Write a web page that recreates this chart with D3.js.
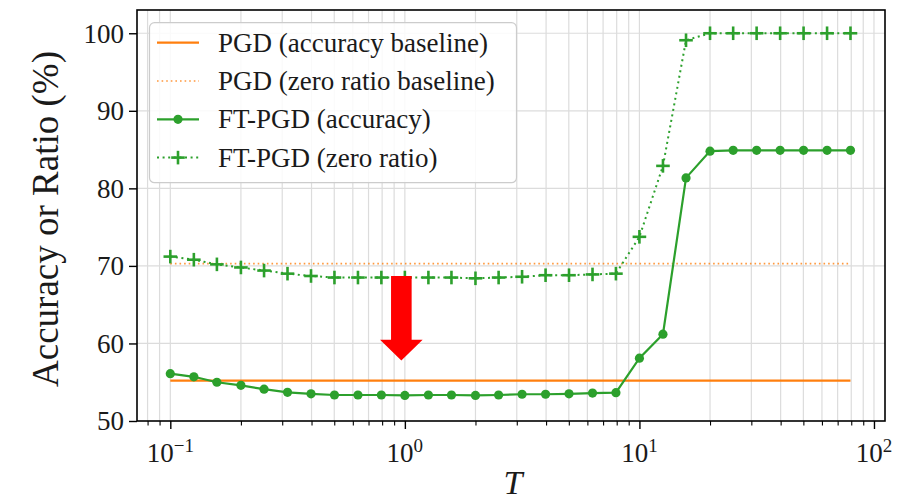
<!DOCTYPE html>
<html>
<head>
<meta charset="utf-8">
<script src="https://cdn.jsdelivr.net/npm/d3@7"></script>
<style>
  html, body { margin: 0; padding: 0; background: #fff; }
  svg { display: block; }
  text { font-family: "Liberation Serif", "DejaVu Serif", serif; fill: #1a1a1a; }
</style>
</head>
<body>
<svg id="chart" width="916" height="502"></svg>
<script>
// ---------------- data ----------------
const T = [0.1, 0.126, 0.158, 0.2, 0.251, 0.316, 0.398, 0.501, 0.631, 0.794,
           1, 1.26, 1.58, 2, 2.51, 3.16, 3.98, 5.01, 6.31, 7.94,
           10, 12.6, 15.8, 20, 25.1, 31.6, 39.8, 50.1, 63.1, 79.4];
const ftAccuracy = [56.1, 55.7, 55.0, 54.6, 54.1, 53.7, 53.5, 53.35, 53.35, 53.35,
                    53.3, 53.35, 53.35, 53.3, 53.35, 53.45, 53.45, 53.5, 53.6, 53.65,
                    58.1, 61.2, 81.35, 84.8, 84.9, 84.9, 84.9, 84.9, 84.9, 84.9];
const ftZeroRatio = [71.2, 70.8, 70.2, 69.8, 69.4, 69.0, 68.7, 68.5, 68.5, 68.5,
                     68.5, 68.5, 68.5, 68.4, 68.5, 68.6, 68.8, 68.8, 68.9, 69.0,
                     73.75, 82.9, 99.1, 100, 100, 100, 100, 100, 100, 100];
const baselineT = [0.1, 79.4];
const pgdAccuracy = [55.2, 55.2];
const pgdZeroRatio = [70.3, 70.3];

const yTicks = [50, 60, 70, 80, 90, 100];
const xMajorTicks = [0.1, 1, 10, 100];
const xMajorExp = ["−1", "0", "1", "2"];
const xMinorTicks = [0.08, 0.09, 0.2, 0.3, 0.4, 0.5, 0.6, 0.7, 0.8, 0.9,
                     2, 3, 4, 5, 6, 7, 8, 9, 20, 30, 40, 50, 60, 70, 80, 90];
const legendLabels = ["PGD (accuracy baseline)", "PGD (zero ratio baseline)",
                      "FT-PGD (accuracy)", "FT-PGD (zero ratio)"];
const xLabel = "T";
const yLabel = "Accuracy or Ratio (%)";
// annotation arrow (T position, from value, to value)
const arrowT = 0.966, arrowFrom = 68.7, arrowTo = 57.8;

// ---------------- layout ----------------
const L = 137, R = 885, TOP = 10, B = 421;
const orange = "#ff7f0e", green = "#2ca02c", gridColor = "#dcdcdc";

const svg = d3.select("#chart");
const x = d3.scaleLog().domain([Math.pow(10, -1.142), Math.pow(10, 2.047)]).range([L, R]);
const y = d3.scaleLinear().domain([50, 103]).range([B, TOP]);

// grid
const grid = svg.append("g");
grid.selectAll("line.vx").data(xMajorTicks.concat(xMinorTicks).filter(d => x(d) > L && x(d) < R))
  .join("line").attr("x1", d => x(d)).attr("x2", d => x(d)).attr("y1", TOP).attr("y2", B)
  .attr("stroke", gridColor).attr("stroke-width", 1.2);
grid.selectAll("line.hy").data(yTicks.filter(d => d > 50))
  .join("line").attr("x1", L).attr("x2", R).attr("y1", d => y(d)).attr("y2", d => y(d))
  .attr("stroke", gridColor).attr("stroke-width", 1.2);

// lines
const line = d3.line().x(d => x(d[0])).y(d => y(d[1]));
const zipB = arr => baselineT.map((t, i) => [t, arr[i]]);
const zipF = arr => T.map((t, i) => [t, arr[i]]);

svg.append("path").attr("d", line(zipB(pgdAccuracy))).attr("fill", "none")
  .attr("stroke", orange).attr("stroke-width", 2.2);
svg.append("path").attr("d", line(zipB(pgdZeroRatio))).attr("fill", "none")
  .attr("stroke", orange).attr("stroke-width", 1.6).attr("stroke-dasharray", "1.6,3").attr("opacity", 0.8);

svg.append("path").attr("d", line(zipF(ftAccuracy))).attr("fill", "none")
  .attr("stroke", green).attr("stroke-width", 2.2);
svg.append("path").attr("d", line(zipF(ftZeroRatio))).attr("fill", "none")
  .attr("stroke", green).attr("stroke-width", 2).attr("stroke-dasharray", "2,3.6");

svg.append("g").selectAll("circle").data(zipF(ftAccuracy)).join("circle")
  .attr("cx", d => x(d[0])).attr("cy", d => y(d[1])).attr("r", 4.6).attr("fill", green);

const plusSize = 6.8;
const plus = (g, cx, cy) => {
  g.append("line").attr("x1", cx - plusSize).attr("x2", cx + plusSize).attr("y1", cy).attr("y2", cy)
    .attr("stroke", green).attr("stroke-width", 2.6);
  g.append("line").attr("x1", cx).attr("x2", cx).attr("y1", cy - plusSize).attr("y2", cy + plusSize)
    .attr("stroke", green).attr("stroke-width", 2.6);
};
const plusG = svg.append("g");
zipF(ftZeroRatio).forEach(d => plus(plusG, x(d[0]), y(d[1])));

// axes ticks
const yAxis = d3.axisLeft(y).tickValues(yTicks).tickSize(8).tickPadding(5).tickFormat(d3.format("d"));
const gy = svg.append("g").attr("transform", `translate(${L},0)`).call(yAxis);
gy.select(".domain").remove();
gy.selectAll(".tick line").attr("stroke", "#000").attr("stroke-width", 1.4);
gy.selectAll(".tick text").attr("font-size", 27).attr("font-family", "Liberation Serif")
  .attr("fill", "#1a1a1a").attr("dy", "0.33em");

const xAxis = d3.axisBottom(x).tickValues(xMajorTicks).tickSize(8).tickFormat("");
const gx = svg.append("g").attr("transform", `translate(0,${B})`).call(xAxis);
gx.select(".domain").remove();
gx.selectAll(".tick line").attr("stroke", "#000").attr("stroke-width", 1.4);
const xMinorAxis = d3.axisBottom(x).tickValues(xMinorTicks.filter(d => x(d) > L)).tickSize(4.5).tickFormat("");
const gxm = svg.append("g").attr("transform", `translate(0,${B})`).call(xMinorAxis);
gxm.select(".domain").remove();
gxm.selectAll(".tick line").attr("stroke", "#000").attr("stroke-width", 1.1);

// x tick labels 10^k
xMajorTicks.forEach((t, i) => {
  const tx = svg.append("text").attr("x", x(t)).attr("y", 461.5).attr("text-anchor", "middle")
    .attr("font-size", 27);
  tx.append("tspan").text("10");
  tx.append("tspan").attr("dy", -10).attr("font-size", 19).text(xMajorExp[i]);
});

// frame
svg.append("rect").attr("x", L).attr("y", TOP).attr("width", R - L).attr("height", B - TOP)
  .attr("fill", "none").attr("stroke", "#000").attr("stroke-width", 1.6);

// axis labels
svg.append("text").attr("x", 513).attr("y", 494).attr("text-anchor", "middle")
  .attr("font-size", 34).attr("font-style", "italic").text(xLabel);
svg.append("text").attr("transform", "translate(58,219) rotate(-90)").attr("text-anchor", "middle")
  .attr("font-size", 37).text(yLabel);

// legend
const lg = svg.append("g");
lg.append("rect").attr("x", 149.5).attr("y", 22.7).attr("width", 367).attr("height", 160)
  .attr("rx", 5).attr("fill", "#fff").attr("fill-opacity", 0.85).attr("stroke", "#cccccc").attr("stroke-width", 1.2);
const rowBase = [51.7, 90, 128.3, 166.6];
legendLabels.forEach((lab, i) => {
  const cy = rowBase[i] - 9;
  const hx1 = 157, hx2 = 199;
  if (i === 0) {
    lg.append("line").attr("x1", hx1).attr("x2", hx2).attr("y1", cy).attr("y2", cy)
      .attr("stroke", orange).attr("stroke-width", 2.2);
  } else if (i === 1) {
    lg.append("line").attr("x1", hx1).attr("x2", hx2).attr("y1", cy).attr("y2", cy)
      .attr("stroke", orange).attr("stroke-width", 1.6).attr("stroke-dasharray", "1.6,3").attr("opacity", 0.8);
  } else if (i === 2) {
    lg.append("line").attr("x1", hx1).attr("x2", hx2).attr("y1", cy).attr("y2", cy)
      .attr("stroke", green).attr("stroke-width", 2.2);
    lg.append("circle").attr("cx", (hx1 + hx2) / 2).attr("cy", cy).attr("r", 4.6).attr("fill", green);
  } else {
    lg.append("line").attr("x1", hx1).attr("x2", hx2).attr("y1", cy).attr("y2", cy)
      .attr("stroke", green).attr("stroke-width", 2).attr("stroke-dasharray", "2,3.6");
    plus(lg, (hx1 + hx2) / 2, cy);
  }
  lg.append("text").attr("x", 218).attr("y", rowBase[i]).attr("font-size", 27).text(lab);
});

// red arrow annotation
const ax = x(arrowT), ay1 = y(arrowFrom), ay2 = y(arrowTo);
const shaftHalf = 10.3, headHalf = 21.3, headLen = 20.7;
const pts = [
  [ax - shaftHalf, ay1], [ax + shaftHalf, ay1], [ax + shaftHalf, ay2 - headLen],
  [ax + headHalf, ay2 - headLen], [ax, ay2], [ax - headHalf, ay2 - headLen],
  [ax - shaftHalf, ay2 - headLen]
];
svg.append("polygon").attr("points", pts.map(p => p.join(",")).join(" ")).attr("fill", "#ff0000");
</script>
</body>
</html>
